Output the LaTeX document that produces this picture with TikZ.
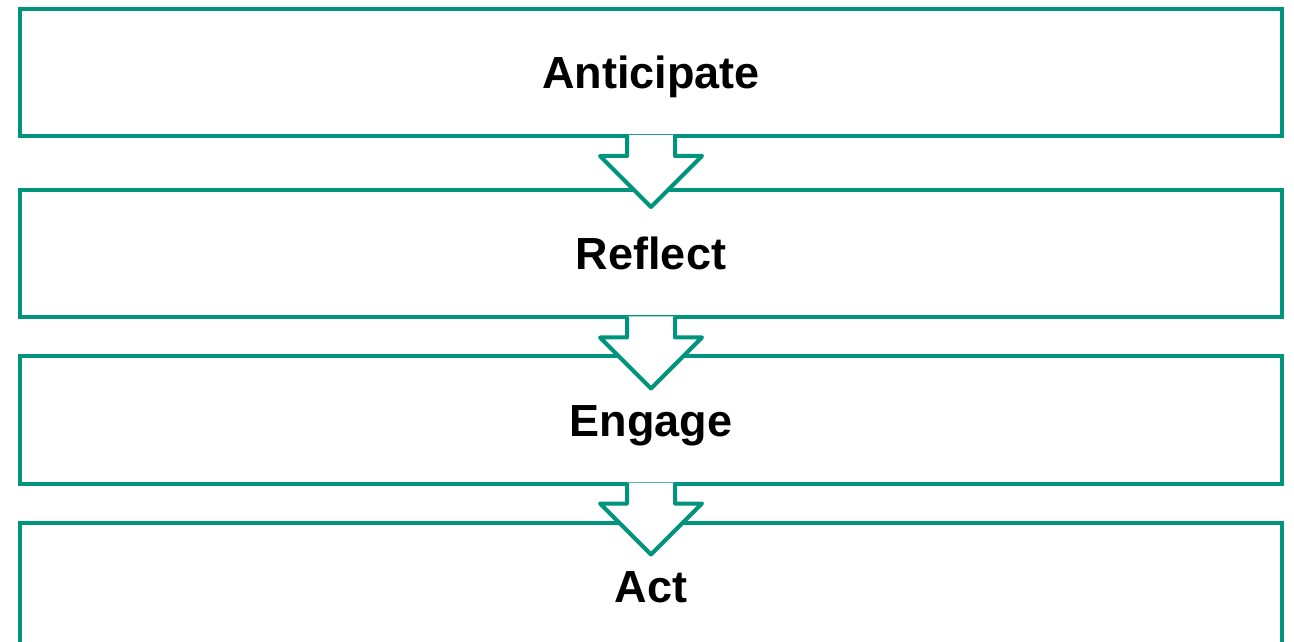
\documentclass[tikz,border=0pt]{standalone}
\usepackage{fontspec}
\setmainfont{Liberation Sans}
\definecolor{stepgreen}{RGB}{0,148,124}

\begin{document}
\begin{tikzpicture}[x=1pt,y=1pt,
        stagebox/.style={draw=stepgreen, line width=4pt, fill=white,
            minimum width=1262pt, minimum height=127pt, inner sep=0pt,
            text height=32pt, text depth=0pt,
            font=\fontsize{45}{54}\selectfont\bfseries},
        downarrow/.style={draw=stepgreen, line width=4pt, fill=white, line join=round}]
        \useasboundingbox (0,0) rectangle (1294,641);
        \clip (0,0) rectangle (1294,641);

        \node[stagebox] (ant) at (651,568.5) {Anticipate};
        \node[stagebox] (ref) at (651,387) {Reflect};
        \node[stagebox] (eng) at (651,221) {Engage};
        \node[stagebox] (act) at (651,54.5) {Act};

        % block arrows hang from the box above
        \foreach \s in {ant,ref,eng}
            \filldraw[downarrow]
                ([shift={(-24,3)}]\s.south) -- ++(0,-21) -- ++(-27,0)
                -- ++(51,-51) -- ++(51,51) -- ++(-27,0) -- ++(0,21);
\end{tikzpicture}
\end{document}
